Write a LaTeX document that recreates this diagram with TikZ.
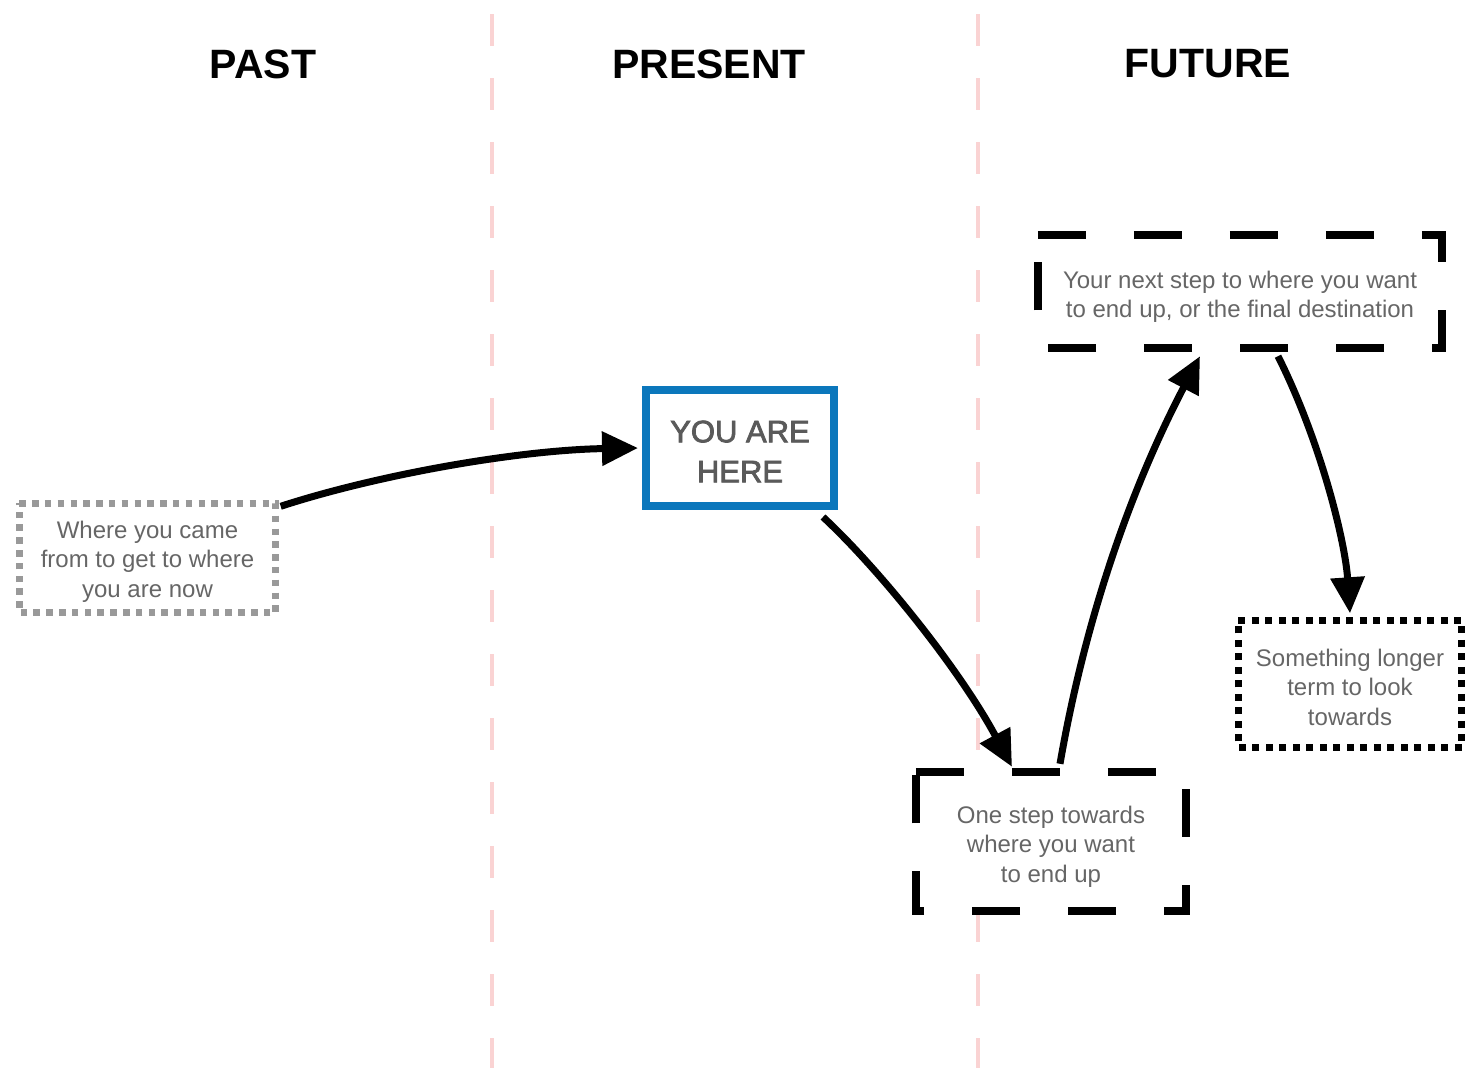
\documentclass[tikz,border=0pt]{standalone}
\usepackage{fontspec}
\setmainfont{Liberation Sans}
\newfontfamily\herefont[FakeBold=2.5]{Liberation Sans}
\usetikzlibrary{arrows.meta}

\definecolor{guidepink}{HTML}{FAD3D3}
\definecolor{bodygrey}{HTML}{666666}
\definecolor{heregrey}{HTML}{5A5A5A}
\definecolor{pastgrey}{HTML}{999999}
\definecolor{hereblue}{HTML}{0B77BC}

% invisible strut that lowers the first line of a box label
\newcommand{\firstline}[1]{\rule{0pt}{#1}}

\tikzset{
  guide/.style={draw=guidepink, line width=4pt, dash pattern=on 32pt off 32pt},
  heading/.style={font=\fontsize{41}{46}\selectfont\bfseries, text=black, inner sep=0pt},
  note/.style={fill=white, inner sep=0pt, align=center, text=bodygrey,
    font=\fontsize{24}{29.5}\selectfont},
  pastborder/.style={draw=pastgrey, line width=7pt, dash pattern=on 6.5pt off 6.3pt},
  dashborder/.style={draw=black, line width=8pt, dash pattern=on 48pt off 48pt},
  dotborder/.style={draw=black, line width=7pt, dash pattern=on 7pt off 6.5pt},
  herebox/.style={draw=hereblue, fill=white, line width=8pt, inner sep=0pt, align=center,
    text=heregrey, font=\herefont\fontsize{31}{40}\selectfont},
  conn/.style={draw=black, line width=7pt,
    -{Triangle[length=36pt,width=33pt]}},
}

\begin{document}
\begin{tikzpicture}[x=1pt, y=-1pt]
\useasboundingbox (0,0) rectangle (1468,1068);
\fill[white] (0,0) rectangle (1468,1068);

% column separators
\draw[guide] (492,14) -- (492,1068);
\draw[guide] (978,14) -- (978,1068);

% column headings
\node[heading] (hpast) at (263,64) {PAST};
\node[heading] (hpresent) at (709,64) {PRESENT};
\node[heading] (hfuture) at (1208,64) {FUTURE};

% boxes
\node[note, minimum width=256pt, minimum height=109pt] (past) at (147.5,558)
  {\firstline{24pt}Where you came\\from to get to where\\you are now};
\draw[pastborder] (past.north west) -- (past.north east) -- (past.south east)
  -- (past.south west) -- cycle;

\node[herebox, minimum width=188pt, minimum height=116pt] (here) at (740,448)
  {\firstline{28.5pt}YOU ARE\\HERE};

\node[note, minimum width=270pt, minimum height=139pt] (step) at (1051,841.5)
  {\firstline{27pt}One step towards\\where you want\\to end up};
\draw[dashborder] (step.north west) -- (step.north east) -- (step.south east)
  -- (step.south west) -- cycle;

\node[note, minimum width=404pt, minimum height=113pt] (goal) at (1240,291.5)
  {\firstline{28pt}Your next step to where you want\\to end up, or the final destination};
\draw[dashborder] (goal.north west) -- (goal.north east) -- (goal.south east)
  -- (goal.south west) -- cycle;

\node[note, minimum width=223pt, minimum height=127pt] (later) at (1350,684)
  {\firstline{24pt}Something longer\\term to look\\towards};
\draw[dotborder] (later.north west) -- (later.north east) -- (later.south east)
  -- (later.south west) -- cycle;

% connectors
\draw[conn] ([xshift=5pt,yshift=-3pt]past.north east)
  .. controls (380,474) and (520,450) .. ([xshift=-4pt]here.west);
\draw[conn] ([xshift=-15pt,yshift=-7pt]here.south east)
  .. controls (880,570) and (960,670) .. ([xshift=-39pt,yshift=5pt]step.north);
\draw[conn] ([xshift=9pt,yshift=8pt]step.north)
  .. controls (1085,620) and (1130,490) .. ([xshift=-40pt,yshift=-8pt]goal.south);
\draw[conn] ([xshift=38pt,yshift=-8pt]goal.south)
  .. controls (1320,440) and (1345,540) .. ([yshift=7pt]later.north);
\end{tikzpicture}
\end{document}
